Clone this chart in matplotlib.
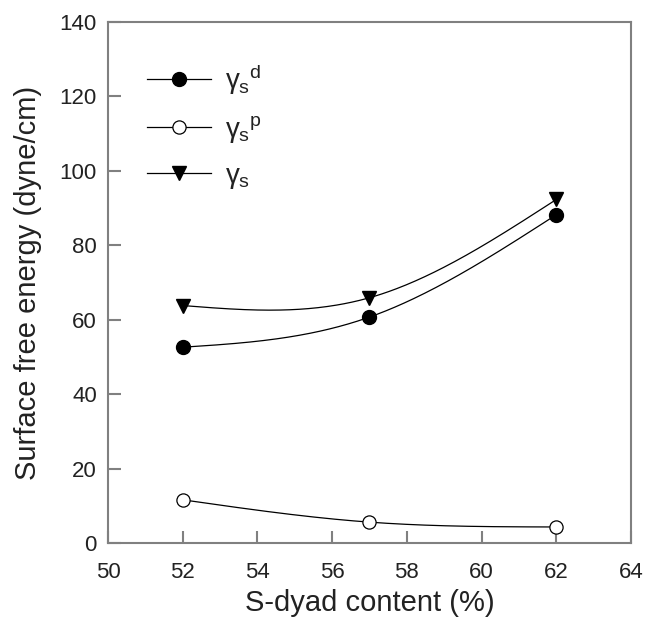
#Surface free energy against S-dyad content
#Packages
import numpy as np
import matplotlib
matplotlib.use("Agg")
import matplotlib.pyplot as plt
from matplotlib.lines import Line2D

plt.rcParams['font.family'] = ['Liberation Sans', 'DejaVu Sans']
plt.rcParams['mathtext.fontset'] = 'custom'
plt.rcParams['mathtext.rm'] = 'Liberation Sans'
plt.rcParams['mathtext.it'] = 'Liberation Sans'
plt.rcParams['mathtext.bf'] = 'Liberation Sans:bold'

#Data
sdyad = [52, 57, 62]                  # S-dyad content (%)
gamma_d = [52.6, 60.7, 88.2]          # dispersive part
gamma_p = [11.6, 5.6, 4.3]            # polar part
gamma_s = [63.8, 65.9, 92.3]          # total
labels = [r'$\gamma_{s}{}^{d}$', r'$\gamma_{s}{}^{p}$', r'$\gamma_{s}$']
xticks = np.arange(50, 65, 2)
yticks = np.arange(0, 141, 20)

frame_gray = '#808080'
text_col = '#222222'

fig = plt.figure(figsize=(6.45, 6.31), dpi=100)
ax = fig.add_axes([0.1674, 0.1395, 0.8109, 0.8257])

#Natural cubic spline through the points (smooth connecting line like the original)
def spline(x, y, n=200):
    x = np.asarray(x, float); y = np.asarray(y, float)
    h = np.diff(x)
    m = len(x)
    A = np.zeros((m, m)); r = np.zeros(m)
    A[0, 0] = A[-1, -1] = 1
    for i in range(1, m - 1):
        A[i, i-1] = h[i-1]; A[i, i] = 2*(h[i-1] + h[i]); A[i, i+1] = h[i]
        r[i] = 6*((y[i+1]-y[i])/h[i] - (y[i]-y[i-1])/h[i-1])
    M = np.linalg.solve(A, r)
    xs = np.linspace(x[0], x[-1], n)
    k = np.clip(np.searchsorted(x, xs) - 1, 0, m - 2)
    t0 = x[k+1] - xs; t1 = xs - x[k]; hk = h[k]
    ys = (M[k]*t0**3 + M[k+1]*t1**3)/(6*hk) + (y[k]/hk - M[k]*hk/6)*t0 + (y[k+1]/hk - M[k+1]*hk/6)*t1
    return xs, ys

lw = 0.9
for yv in (gamma_d, gamma_p, gamma_s):
    xs, ys = spline(sdyad, yv)
    ax.plot(xs, ys, color='black', linewidth=lw, zorder=2)

ax.plot(sdyad, gamma_d, linestyle='none', marker='o', markersize=10,
        markerfacecolor='black', markeredgecolor='black', zorder=3)
ax.plot(sdyad, gamma_p, linestyle='none', marker='o', markersize=9.5,
        markerfacecolor='white', markeredgecolor='black', markeredgewidth=0.9, zorder=3)
ax.plot(sdyad, gamma_s, linestyle='none', marker='v', markersize=10,
        markerfacecolor='black', markeredgecolor='black', zorder=3)

#Legend with proxy handles
handles = [
    Line2D([], [], color='black', linewidth=lw, marker='o', markersize=10,
           markerfacecolor='black', markeredgecolor='black'),
    Line2D([], [], color='black', linewidth=lw, marker='o', markersize=9.5,
           markerfacecolor='white', markeredgecolor='black', markeredgewidth=0.9),
    Line2D([], [], color='black', linewidth=lw, marker='v', markersize=10,
           markerfacecolor='black', markeredgecolor='black'),
]
leg = ax.legend(handles, labels, loc='upper left', bbox_to_anchor=(0.075, 0.923),
                frameon=False, fontsize=20, handlelength=2.3, handletextpad=0.5,
                labelspacing=0.63, borderpad=0, borderaxespad=0)
for t in leg.get_texts():
    t.set_color(text_col)

ax.set_xlim(50, 64)
ax.set_ylim(0, 140)
ax.set_xticks(xticks)
ax.set_yticks(yticks)
ax.tick_params(axis='both', direction='in', length=9, width=1.5, color=frame_gray,
               labelsize=16, labelcolor=text_col, top=False, right=False)
ax.tick_params(axis='x', pad=14)
ax.tick_params(axis='y', pad=8)
for s in ax.spines.values():
    s.set_color(frame_gray)
    s.set_linewidth(1.5)

ax.set_xlabel("S-dyad content (%)", fontsize=21, color=text_col, labelpad=4)
ax.set_ylabel("Surface free energy (dyne/cm)", fontsize=21, color=text_col, labelpad=13)

plt.savefig('out.png', dpi=100)
